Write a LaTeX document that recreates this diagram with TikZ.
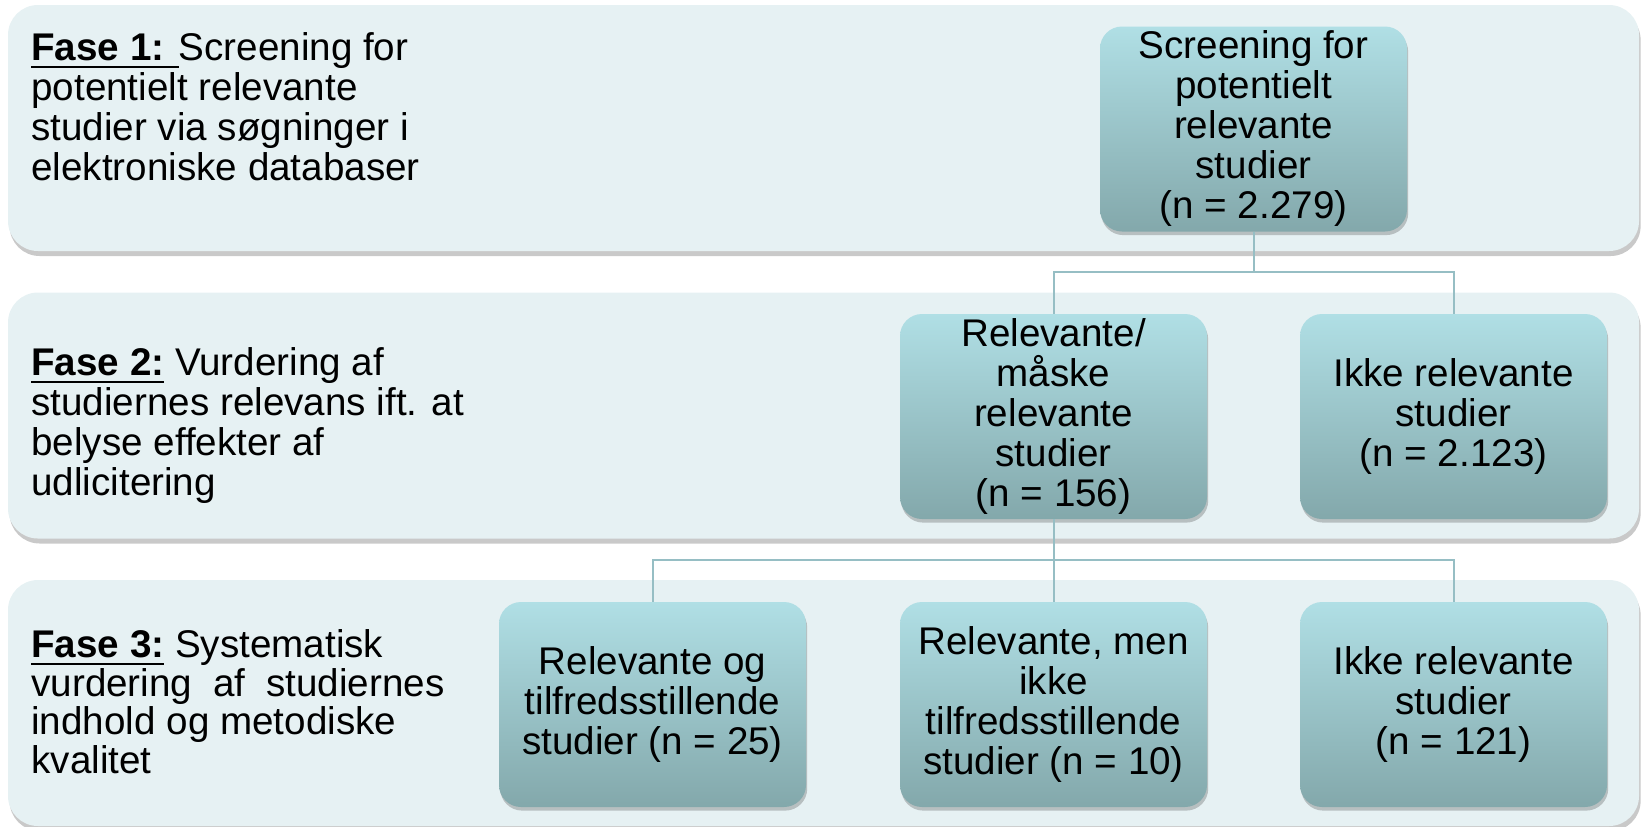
\documentclass[tikz,border=0pt]{standalone}
\usepackage{fontspec}
\setmainfont{Liberation Sans}
\usetikzlibrary{shadows}

\definecolor{bandfill}{HTML}{E6F1F3}
\definecolor{boxtop}{HTML}{B0DFE5}
\definecolor{boxbottom}{HTML}{83A8AB}
\definecolor{connline}{HTML}{96BEC4}

% underline with a thicker rule
\newcommand{\ulfase}[1]{\setbox0\hbox{#1}\rlap{\rule[-4pt]{\wd0}{1.4pt}}\box0\relax}

\tikzset{
  band/.style={rounded corners=15pt, fill=bandfill, minimum width=815.5pt, minimum height=123pt,
    drop shadow={shadow xshift=0.8pt, shadow yshift=-2.5pt, opacity=0.3, fill=black!70}},
  stage/.style={rounded corners=11pt, top color=boxtop, bottom color=boxbottom,
    minimum width=153.5pt, minimum height=102.5pt, inner sep=0pt, align=center,
    font=\fontsize{19.3}{20}\selectfont,
    drop shadow={shadow xshift=0.6pt, shadow yshift=-1.8pt, opacity=0.3, fill=black!70}},
  fasetext/.style={anchor=north west, inner sep=0pt, align=left, font=\fontsize{19.3}{20}\selectfont},
  conn/.style={draw=connline, line width=1pt}
}

\begin{document}
\begin{tikzpicture}[x=0.5pt, y=-0.5pt]

\useasboundingbox (0,0) rectangle (1641,826);

% Baggrundsbaand for de tre faser
\node[band] (fase1) at (823.5,128) {};
\node[band] (fase2) at (823.5,415.5) {};
\node[band] (fase3) at (823.5,703) {};

% Tekst i venstre side
\node[fasetext] (fase1txt) at (31,32) {\ulfase{\textbf{Fase 1: }}Screening for\\potentielt relevante\\studier via søgninger i\\elektroniske databaser};
\node[fasetext] (fase2txt) at (31,347) {\ulfase{\textbf{Fase 2:}} Vurdering af\\studiernes relevans ift. at\\belyse effekter af\\udlicitering};
\node[fasetext, font=\fontsize{19.3}{19.4}\selectfont] (fase3txt) at (31,629) {\ulfase{\textbf{Fase 3:}} Systematisk\\\makebox[206.5pt][s]{vurdering af studiernes}\\indhold og metodiske\\kvalitet};

% Forbindelser
\coordinate (split1) at (1253.5,272);
\coordinate (split2) at (1053.5,560);

% Kasser
\node[stage] (screen) at (1253.5,129) {Screening for\\potentielt\\relevante\\studier\\(n = 2.279)};
\node[stage] (relev) at (1053.5,416.5) {Relevante/\\måske\\relevante\\studier\\(n = 156)};
\node[stage] (ikke1) at (1453.5,416.5) {Ikke relevante\\studier\\(n = 2.123)};
\node[stage] (godt) at (652.5,704.5) {Relevante og\\tilfredsstillende\\studier (n = 25)};
\node[stage] (ikkegodt) at (1053.5,704.5) {Relevante, men\\ikke\\tilfredsstillende\\studier (n = 10)};
\node[stage] (ikke2) at (1453.5,704.5) {Ikke relevante\\studier\\(n = 121)};

\draw[conn] (screen.south) -- (split1) -| (relev.north);
\draw[conn] (split1) -| (ikke1.north);

\draw[conn] (relev.south) -- (split2) -| (godt.north);
\draw[conn] (split2) -| (ikke2.north);
\draw[conn] (split2) -- (ikkegodt.north);

\end{tikzpicture}
\end{document}
